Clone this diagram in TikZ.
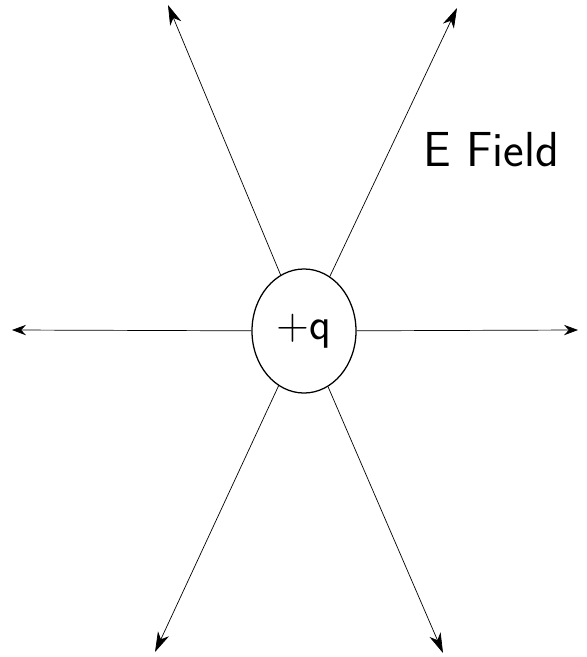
\documentclass[tikz,border=0pt]{standalone}
\usepackage{tikz}
\usetikzlibrary{arrows.meta,shapes.geometric}
\tikzset{
  charge/.style={draw, line width=0.9pt, ellipse, minimum width=2.6cm, minimum height=3.1cm,
    inner sep=0pt, font=\sffamily\fontsize{32}{36}\selectfont},
  fieldline/.style={draw, line width=0.5pt, -{Stealth[length=5mm, width=3mm, inset=1.5mm]}},
  sideline/.style={draw, line width=0.5pt, -{Stealth[length=3.5mm, width=2.6mm, inset=1.2mm]}},
  lbl/.style={font=\sffamily\fontsize{35}{40}\selectfont}
}
\begin{document}
\begin{tikzpicture}[x=0.025cm, y=-0.025cm]
  \useasboundingbox (0,0) rectangle (586,657);
  % point charge
  \node[charge] (q) at (304,331) {+q};
  % field line ends
  \coordinate (ul) at (168,5);
  \coordinate (ur) at (457,8);
  \coordinate (l) at (12,330);
  \coordinate (r) at (578,330);
  \coordinate (dl) at (155,652);
  \coordinate (dr) at (443,653);
  \foreach \e in {ul,ur,dl,dr}
    \draw[fieldline] (q) -- (\e);
  \draw[sideline] (q) -- (l);
  \draw[sideline] (q) -- (r);
  \node[lbl] (efield) at (491,150) {E Field};
\end{tikzpicture}
\end{document}
